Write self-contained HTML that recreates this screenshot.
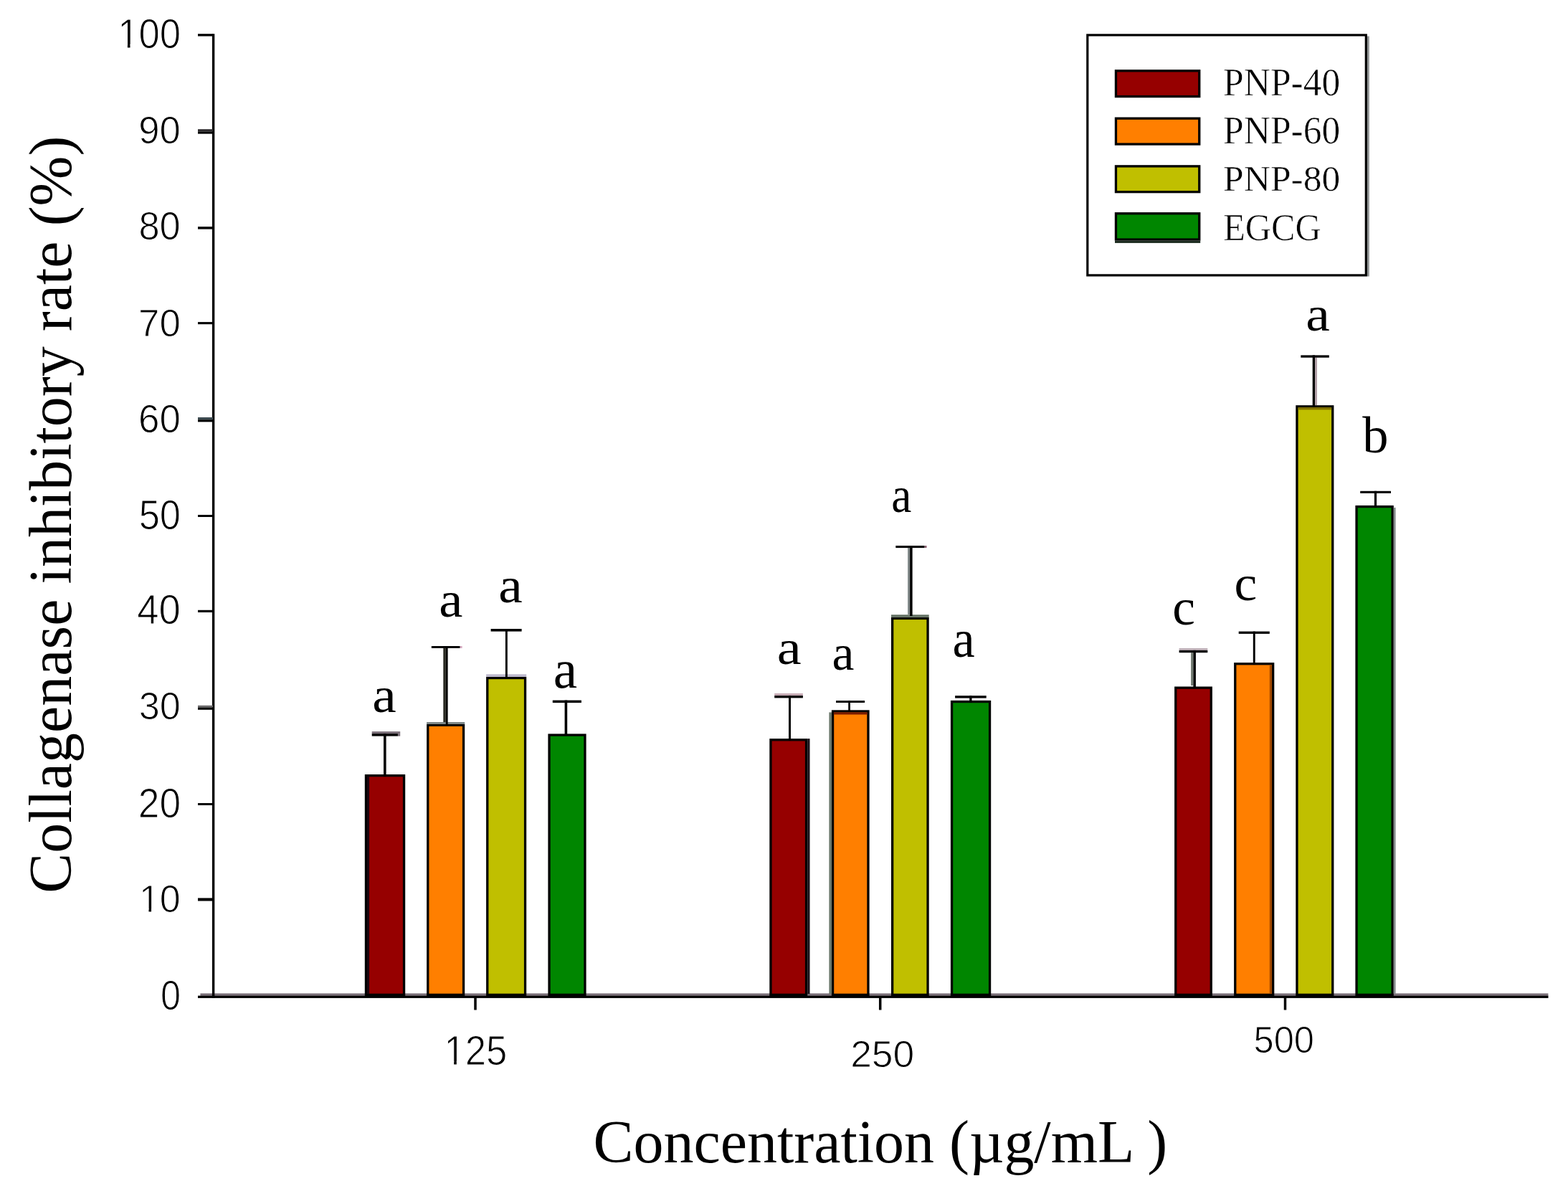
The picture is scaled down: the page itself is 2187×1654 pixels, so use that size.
<!DOCTYPE html>
<html><head><meta charset="utf-8"><title>Collagenase inhibitory rate</title>
<style>
html,body{margin:0;padding:0;background:#fff;}
body{width:2187px;height:1654px;overflow:hidden;}
svg{display:block;}
.sans{font-family:"Liberation Sans",Arial,sans-serif;}
.serif{font-family:"Liberation Serif","Times New Roman",serif;}
</style></head>
<body>
<svg width="2187" height="1654" viewBox="0 0 2187 1654">
<rect x="0" y="0" width="2187" height="1654" fill="#fff"/>
<rect x="279.4" y="1385.4" width="1880" height="3.4" fill="#7a6f78"/>
<rect x="295.9" y="47.2" width="3.4" height="1344.6" fill="#000"/>
<rect x="276.0" y="47.2" width="21" height="3.3" fill="#000"/>
<rect x="276.0" y="180.2" width="21" height="3.2" fill="#2c2a2c"/>
<rect x="276.0" y="183.4" width="21" height="3.2" fill="#000"/>
<rect x="276.0" y="316.1" width="21" height="3.5" fill="#000"/>
<rect x="276.0" y="449.1" width="21" height="3.1" fill="#000"/>
<rect x="276.0" y="582.0" width="21" height="3.2" fill="#3c4a50"/>
<rect x="276.0" y="585.2" width="21" height="3.2" fill="#000"/>
<rect x="276.0" y="718.0" width="21" height="3.0" fill="#000"/>
<rect x="276.0" y="850.8" width="21" height="3.2" fill="#000"/>
<rect x="276.0" y="983.8" width="21" height="2.7" fill="#6c6a6c"/>
<rect x="276.0" y="986.5" width="21" height="3.3" fill="#000"/>
<rect x="276.0" y="1120.0" width="21" height="3.0" fill="#000"/>
<rect x="276.0" y="1252.4" width="21" height="4.1" fill="#000"/>
<g fill="#000">
<text class="sans" font-size="100" transform="translate(223.93 1408.13) scale(0.5042 0.5692)" stroke="#fff" stroke-width="1.98" stroke-linejoin="round">0</text>
<text class="sans" font-size="100" transform="translate(193.91 1271.96) scale(0.5200 0.5438)" stroke="#fff" stroke-width="1.92" stroke-linejoin="round">10</text><g transform="translate(193.91 1271.96) scale(0.5200 0.5438)"><rect x="5.50" y="-8.6" width="20.56" height="10" fill="#fff"/><rect x="32.94" y="-8.6" width="20.16" height="10" fill="#fff"/></g>
<text class="sans" font-size="100" transform="translate(192.84 1139.53) scale(0.5327 0.5749)" stroke="#fff" stroke-width="1.88" stroke-linejoin="round">20</text>
<text class="sans" font-size="100" transform="translate(193.72 1003.27) scale(0.5217 0.5282)" stroke="#fff" stroke-width="1.92" stroke-linejoin="round">30</text>
<text class="sans" font-size="100" transform="translate(191.25 870.23) scale(0.5448 0.5692)" stroke="#fff" stroke-width="1.84" stroke-linejoin="round">40</text>
<text class="sans" font-size="100" transform="translate(193.70 737.63) scale(0.5247 0.5749)" stroke="#fff" stroke-width="1.91" stroke-linejoin="round">50</text>
<text class="sans" font-size="100" transform="translate(193.01 602.95) scale(0.5284 0.5494)" stroke="#fff" stroke-width="1.89" stroke-linejoin="round">60</text>
<text class="sans" font-size="100" transform="translate(193.01 468.86) scale(0.5284 0.5367)" stroke="#fff" stroke-width="1.89" stroke-linejoin="round">70</text>
<text class="sans" font-size="100" transform="translate(193.45 334.44) scale(0.5243 0.5579)" stroke="#fff" stroke-width="1.91" stroke-linejoin="round">80</text>
<text class="sans" font-size="100" transform="translate(193.23 199.77) scale(0.5263 0.5297)" stroke="#fff" stroke-width="1.90" stroke-linejoin="round">90</text>
<text class="sans" font-size="100" transform="translate(164.14 66.73) scale(0.5271 0.5749)" stroke="#fff" stroke-width="1.90" stroke-linejoin="round">100</text><g transform="translate(164.14 66.73) scale(0.5271 0.5749)"><rect x="5.50" y="-8.6" width="20.55" height="10" fill="#fff"/><rect x="32.95" y="-8.6" width="20.15" height="10" fill="#fff"/></g>
</g>
<g stroke="#000" stroke-width="3.5">
<line x1="663.0" y1="1390" x2="663.0" y2="1408.5"/>
<line x1="1227.7" y1="1390" x2="1227.7" y2="1408.5"/>
<line x1="1792.5" y1="1390" x2="1792.5" y2="1408.5"/>
</g>
<g fill="#000">
<text class="sans" font-size="100" transform="translate(619.44 1484.92) scale(0.5268 0.5791)" stroke="#fff" stroke-width="1.90" stroke-linejoin="round">125</text><g transform="translate(619.44 1484.92) scale(0.5268 0.5791)"><rect x="5.50" y="-8.6" width="20.55" height="10" fill="#fff"/><rect x="32.95" y="-8.6" width="20.15" height="10" fill="#fff"/></g>
<text class="sans" font-size="100" transform="translate(1186.13 1487.88) scale(0.5339 0.5240)" stroke="#fff" stroke-width="1.87" stroke-linejoin="round">250</text>
<text class="sans" font-size="100" transform="translate(1748.47 1468.08) scale(0.5066 0.5226)" stroke="#fff" stroke-width="1.97" stroke-linejoin="round">500</text>
</g>
<g stroke="#000" stroke-width="3.3">
<rect x="510.45" y="1081.65" width="53.10" height="305.70" fill="#960000"/>
<rect x="596.75" y="1011.25" width="49.80" height="376.10" fill="#ff7f00"/>
<rect x="679.75" y="945.55" width="52.80" height="441.80" fill="#c0bf00"/>
<rect x="766.05" y="1025.05" width="49.90" height="362.30" fill="#008600"/>
<rect x="1074.95" y="1031.75" width="49.60" height="355.60" fill="#960000"/>
<rect x="1161.55" y="991.95" width="49.40" height="395.40" fill="#ff7f00"/>
<rect x="1244.65" y="862.45" width="49.40" height="524.90" fill="#c0bf00"/>
<rect x="1327.55" y="978.55" width="53.00" height="408.80" fill="#008600"/>
<rect x="1639.75" y="959.15" width="49.50" height="428.20" fill="#960000"/>
<rect x="1722.75" y="925.75" width="52.90" height="461.60" fill="#ff7f00"/>
<rect x="1808.95" y="566.85" width="49.80" height="820.50" fill="#c0bf00"/>
<rect x="1892.05" y="706.55" width="50.10" height="680.80" fill="#008600"/>
</g>
<rect x="511.9" y="1083.0" width="3.2" height="303.0" fill="#1c0610"/>
<rect x="595.1" y="1007.0" width="53.1" height="2.8" fill="#7c8686"/>
<rect x="678.1" y="940.3" width="56.1" height="3.6" fill="#bdb8cc"/>
<rect x="1126.2" y="1030.1" width="3.3" height="355.9" fill="#1a1018"/>
<rect x="1156.4" y="993.4" width="3.5" height="392.6" fill="#6a786a"/>
<rect x="1162.8" y="993.4" width="46.8" height="3.1" fill="#7a1a00"/>
<rect x="1243.0" y="857.3" width="52.7" height="3.5" fill="#627062"/>
<rect x="1770.8" y="927.2" width="3.3" height="458.8" fill="#a04800"/>
<rect x="1810.5" y="568.2" width="46.7" height="3.2" fill="#807000"/>
<rect x="1943.8" y="707.9" width="2.8" height="678.1" fill="#848c8c"/>
<rect x="276" y="1388.6" width="1883.5" height="3.3" fill="#000"/>
<g>
<rect x="518.7" y="1020.1" width="39.5" height="3.0" fill="#7b6f79"/>
<rect x="554.9" y="1023.1" width="3.3" height="3.5" fill="#7b6f79"/>
<rect x="618.3" y="903.9" width="3.5" height="103.1" fill="#2a2a22"/>
<rect x="641.5" y="901.0" width="3.1" height="2.9" fill="#d8a8c0"/>
<rect x="1080.2" y="967.0" width="39.7" height="3.1" fill="#c6aab4"/>
<rect x="1266.1" y="764.1" width="3.0" height="92.9" fill="#7e8686"/>
<rect x="1289.4" y="761.0" width="3.1" height="3.1" fill="#8a6070"/>
<rect x="1644.6" y="904.0" width="39.7" height="2.9" fill="#bfb0b8"/>
<rect x="1661.1" y="910.2" width="3.3" height="45.8" fill="#6f786f"/>
<rect x="1834.0" y="498.7" width="3.0" height="66.3" fill="#b2a0a8"/>
</g>
<g fill="#000">
<rect x="535.0" y="1023.1" width="3.6" height="57.9"/>
<rect x="518.7" y="1023.1" width="36.2" height="3.5"/>
<rect x="621.8" y="901.0" width="2.8" height="109.5"/>
<rect x="601.8" y="901.0" width="39.7" height="2.9"/>
<rect x="704.9" y="877.0" width="2.9" height="67.5"/>
<rect x="684.6" y="877.0" width="43.0" height="3.6"/>
<rect x="787.6" y="976.6" width="3.6" height="47.4"/>
<rect x="770.8" y="976.6" width="40.1" height="3.5"/>
<rect x="1100.0" y="970.1" width="3.0" height="60.9"/>
<rect x="1080.2" y="970.1" width="39.7" height="3.3"/>
<rect x="1183.2" y="977.1" width="2.7" height="13.9"/>
<rect x="1166.0" y="977.1" width="40.1" height="2.9"/>
<rect x="1269.1" y="761.0" width="3.5" height="98.0"/>
<rect x="1249.3" y="761.0" width="40.1" height="3.1"/>
<rect x="1352.2" y="970.2" width="3.3" height="7.3"/>
<rect x="1332.1" y="970.2" width="43.6" height="3.4"/>
<rect x="1664.4" y="906.9" width="3.5" height="51.1"/>
<rect x="1644.6" y="906.9" width="39.7" height="3.3"/>
<rect x="1747.8" y="880.6" width="2.9" height="43.9"/>
<rect x="1727.7" y="880.6" width="43.1" height="3.3"/>
<rect x="1830.7" y="495.4" width="3.3" height="70.6"/>
<rect x="1814.3" y="495.4" width="39.5" height="3.3"/>
<rect x="1916.9" y="684.8" width="3.2" height="20.7"/>
<rect x="1897.2" y="684.8" width="42.8" height="3.1"/>
</g>
<g fill="#000">
<text class="serif" font-size="100" transform="translate(519.36 992.80) scale(0.7544 0.6952)">a</text>
<text class="serif" font-size="100" transform="translate(612.29 860.00) scale(0.7468 0.6994)">a</text>
<text class="serif" font-size="100" transform="translate(695.16 840.40) scale(0.7544 0.7035)">a</text>
<text class="serif" font-size="100" transform="translate(771.77 959.44) scale(0.7519 0.7557)">a</text>
<text class="serif" font-size="100" transform="translate(1083.72 926.12) scale(0.7646 0.6827)">a</text>
<text class="serif" font-size="100" transform="translate(1160.56 933.79) scale(0.6962 0.7077)">a</text>
<text class="serif" font-size="100" transform="translate(1243.28 713.90) scale(0.6329 0.6994)">a</text>
<text class="serif" font-size="100" transform="translate(1328.55 915.76) scale(0.7013 0.7411)">a</text>
<text class="serif" font-size="100" transform="translate(1635.28 870.79) scale(0.7147 0.7110)">c</text>
<text class="serif" font-size="100" transform="translate(1721.48 836.60) scale(0.7147 0.7027)">c</text>
<text class="serif" font-size="100" transform="translate(1821.35 461.21) scale(0.7570 0.6868)">a</text>
<text class="serif" font-size="100" transform="translate(1900.20 630.68) scale(0.7251 0.7230)">b</text>
</g>
<rect x="1906.9" y="50.5" width="2.9" height="335.0" fill="#8f9393"/>
<rect x="1516.80" y="48.90" width="388.50" height="335.00" fill="#fff" stroke="#000" stroke-width="3.2"/>
<g stroke="#000" stroke-width="3.3">
<rect x="1556.45" y="98.75" width="116.30" height="35.80" fill="#960000"/>
<rect x="1556.45" y="165.15" width="116.30" height="35.90" fill="#ff7f00"/>
<rect x="1556.45" y="231.85" width="116.30" height="35.80" fill="#c0bf00"/>
<rect x="1556.45" y="297.75" width="116.30" height="36.30" fill="#008600"/>
</g>
<rect x="1555.0" y="335.7" width="119.2" height="3.2" fill="#1b2b1f"/>
<g fill="#000">
<text class="serif" font-size="100" transform="translate(1706.00 132.96) scale(0.5156 0.5393)" stroke="#fff" stroke-width="1.16" stroke-linejoin="round">PNP-40</text>
<text class="serif" font-size="100" transform="translate(1706.00 199.66) scale(0.5156 0.5407)" stroke="#fff" stroke-width="1.16" stroke-linejoin="round">PNP-60</text>
<text class="serif" font-size="100" transform="translate(1706.00 266.30) scale(0.5156 0.5037)" stroke="#fff" stroke-width="1.16" stroke-linejoin="round">PNP-80</text>
<text class="serif" font-size="100" transform="translate(1706.25 334.76) scale(0.5011 0.5372)" stroke="#fff" stroke-width="1.20" stroke-linejoin="round">EGCG</text>
</g>
<text class="serif" font-size="100" transform="translate(827.46 1620.72) scale(0.8397 0.8462)">Concentration (µg/mL )</text>
<text class="serif" font-size="100" transform="translate(98.67 1245.84) rotate(-90) scale(0.8398 0.8440)">Collagenase inhibitory rate (%)</text>
</svg>
</body></html>
